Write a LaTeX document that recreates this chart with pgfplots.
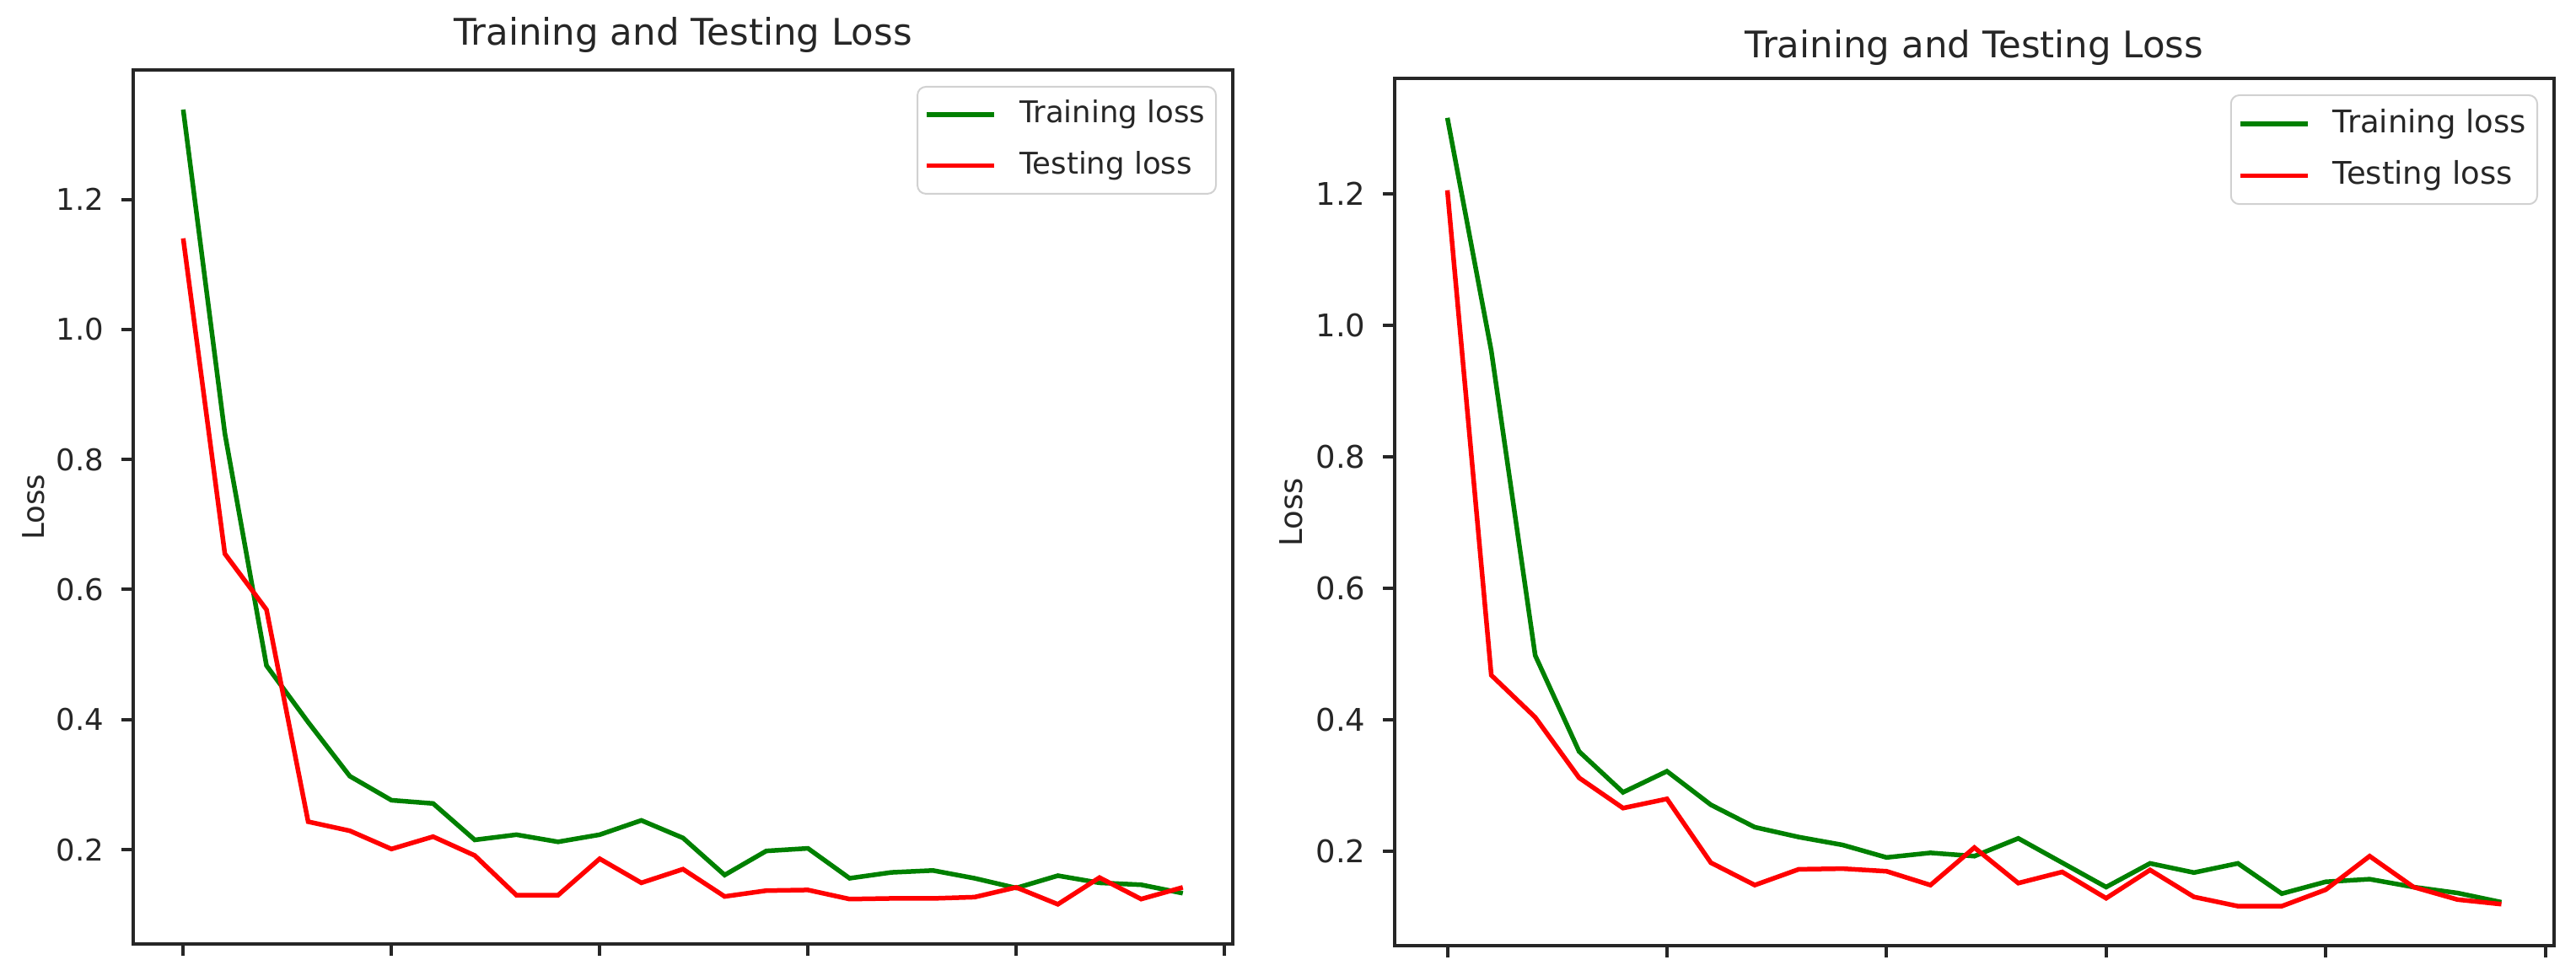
\documentclass[border=0pt]{standalone}
\usepackage{pgfplots}
\pgfplotsset{compat=1.18}
\usepackage{pgfplotstable}
\usepackage{fontspec}
\setmainfont{DejaVu Sans}
\setsansfont{DejaVu Sans}

\definecolor{mplgreen}{HTML}{008000}
\definecolor{mplred}{HTML}{FF0000}

\pgfplotstableread{
x train test
0  1.338 1.140
1  0.840 0.655
2  0.483 0.569
3  0.396 0.243
4  0.313 0.229
5  0.276 0.201
6  0.271 0.220
7  0.215 0.191
8  0.223 0.130
9  0.212 0.130
10 0.223 0.186
11 0.245 0.149
12 0.218 0.170
13 0.161 0.128
14 0.198 0.137
15 0.202 0.138
16 0.156 0.124
17 0.165 0.125
18 0.168 0.125
19 0.156 0.127
20 0.141 0.142
21 0.160 0.116
22 0.149 0.157
23 0.146 0.124
24 0.133 0.142
}\lefttable

\pgfplotstableread{
x train test
0  1.315 1.205
1  0.961 0.468
2  0.498 0.404
3  0.352 0.312
4  0.290 0.266
5  0.322 0.280
6  0.271 0.183
7  0.237 0.149
8  0.222 0.173
9  0.210 0.174
10 0.191 0.170
11 0.198 0.149
12 0.193 0.206
13 0.220 0.152
14 0.183 0.169
15 0.146 0.129
16 0.182 0.172
17 0.168 0.131
18 0.182 0.117
19 0.136 0.117
20 0.154 0.142
21 0.158 0.193
22 0.146 0.146
23 0.137 0.127
24 0.123 0.120
}\righttable

\pgfplotsset{
  every axis title shift=0pt,
  lossaxis/.style={
    scale only axis,
    anchor=south west,
    xmin=-1.2, xmax=25.2,
    xtick={0,5,10,15,20,25},
    xticklabels={},
    ytick={0.2,0.4,0.6,0.8,1.0,1.2},
    /pgf/number format/.cd, fixed, fixed zerofill, precision=1, assume math mode=true,
    /pgfplots/.cd,
    xtick pos=bottom, ytick pos=left,
    tick align=outside,
    major tick length=2.8pt,
    every tick/.style={black!85, line width=0.8pt},
    axis line style={black!85, line width=0.8pt},
    ticklabel style={font=\fontsize{#1}{8}\selectfont, text=black!85},
    yticklabel style={xshift=-0.6pt},
    ylabel={Loss},
    ylabel style={at={(axis description cs:0,0.5)}, anchor=center, font=\fontsize{#1}{8}\selectfont, text=black!85},
    title={Training and Testing Loss},
    title style={at={(0.5,1)}, anchor=base, font=\fontsize{8.7}{10}\selectfont, text=black!85},
    legend cell align=left,
    legend image code/.code={\draw[##1, line width=1.1pt] (0pt,0pt) -- (16pt,0pt); \path (20.5pt,0pt);},
    legend style={at={(1,1)}, anchor=north east, xshift=-3.8pt, yshift=-3.8pt,
      draw=black!18, rounded corners=2pt, fill=white, fill opacity=0.8, text opacity=1,
      font=\fontsize{#1}{8}\selectfont, text=black!85,
      inner xsep=1.6pt, inner ysep=2.2pt, row sep=3.2pt,
      nodes={inner sep=1pt}},
  },
  lossaxis/.default=7.1,
}

\begin{document}
\begin{tikzpicture}
\useasboundingbox (0,0) rectangle (611pt,231.6pt);
\begin{axis}[lossaxis=7.1,
  at={(31.6pt,7.6pt)}, width=260.8pt, height=207.4pt,
  ymin=0.055, ymax=1.399,
  ylabel style={yshift=23.6pt},
  title style={yshift=5.8pt}]
\addplot[mplgreen, line width=1.1pt] table[x=x, y=train] {\lefttable};
\addlegendentry{Training loss}
\addplot[mplred, line width=1.1pt] table[x=x, y=test] {\lefttable};
\addlegendentry{Testing loss}
\end{axis}
\begin{axis}[lossaxis=7.4,
  at={(330.8pt,7.2pt)}, width=275pt, height=205.8pt,
  ymin=0.057, ymax=1.375,
  ylabel style={yshift=24.6pt},
  title style={yshift=4.9pt}]
\addplot[mplgreen, line width=1.1pt] table[x=x, y=train] {\righttable};
\addlegendentry{Training loss}
\addplot[mplred, line width=1.1pt] table[x=x, y=test] {\righttable};
\addlegendentry{Testing loss}
\end{axis}
\end{tikzpicture}
\end{document}
